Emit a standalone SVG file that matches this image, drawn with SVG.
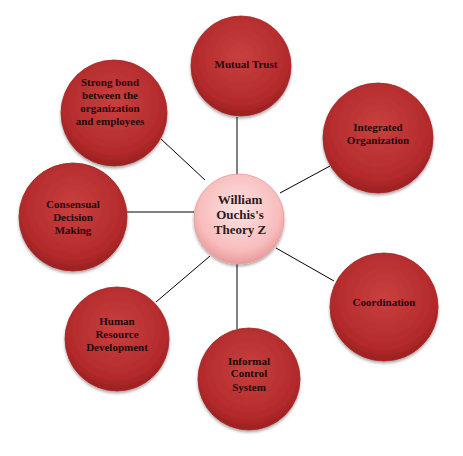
<svg xmlns="http://www.w3.org/2000/svg" width="463" height="456" viewBox="0 0 463 456">
<defs>
<radialGradient id="red" cx="50%" cy="40%" r="60%">
<stop offset="0" stop-color="#c8403f"/>
<stop offset="0.8" stop-color="#b32a2b"/>
<stop offset="1" stop-color="#9a1f20"/>
</radialGradient>
<radialGradient id="pink" cx="50%" cy="40%" r="60%">
<stop offset="0" stop-color="#fde3e3"/>
<stop offset="0.75" stop-color="#f8bcbc"/>
<stop offset="1" stop-color="#e89a9a"/>
</radialGradient>
<filter id="sh" x="-20%" y="-20%" width="140%" height="140%">
<feGaussianBlur in="SourceAlpha" stdDeviation="1.5"/>
<feOffset dx="0" dy="2" result="b"/>
<feComponentTransfer><feFuncA type="linear" slope="0.35"/></feComponentTransfer>
<feMerge><feMergeNode/><feMergeNode in="SourceGraphic"/></feMerge>
</filter>
</defs>
<style>
.outer{fill:url(#red);stroke:#a52a2a;stroke-width:0.8;filter:url(#sh)}
.center{fill:url(#pink);stroke:#e6a0a0;stroke-width:0.8;filter:url(#sh)}
.lbl{font-family:"Liberation Serif","DejaVu Serif",serif;font-weight:bold;font-size:11px;fill:#1e0a0a;text-anchor:middle}
.clbl{font-family:"Liberation Serif","DejaVu Serif",serif;font-weight:bold;font-size:13px;fill:#2e1a1a;text-anchor:middle}
.conn line{stroke:#000;stroke-width:1}
</style>
<rect width="463" height="456" fill="#fff"/>
<g class="conn">
<line x1="237" y1="117" x2="237" y2="175"/>
<line x1="161" y1="139" x2="205" y2="180"/>
<line x1="330" y1="166" x2="280" y2="193"/>
<line x1="334" y1="281" x2="276" y2="248"/>
<line x1="237" y1="263" x2="237" y2="329"/>
<line x1="156" y1="302" x2="210" y2="256"/>
<line x1="127" y1="212" x2="194" y2="212"/>
</g>
<g id="mutual-trust">
<circle class="outer" cx="241" cy="66" r="50"/>
<text class="lbl" x="246" y="68">Mutual Trust</text>
</g>
<g id="strong-bond">
<circle class="outer" cx="114" cy="113" r="53"/>
<text class="lbl" x="110" y="86">Strong bond</text>
<text class="lbl" x="110" y="99">between the</text>
<text class="lbl" x="110" y="112">organization</text>
<text class="lbl" x="110" y="125">and employees</text>
</g>
<g id="integrated">
<circle class="outer" cx="378" cy="138" r="55"/>
<text class="lbl" x="378" y="131">Integrated</text>
<text class="lbl" x="378" y="144">Organization</text>
</g>
<g id="coordination">
<circle class="outer" cx="384" cy="307" r="54"/>
<text class="lbl" x="384" y="306">Coordination</text>
</g>
<g id="informal">
<circle class="outer" cx="249" cy="379" r="51"/>
<text class="lbl" x="249" y="365">Informal</text>
<text class="lbl" x="249" y="377">Control</text>
<text class="lbl" x="249" y="391">System</text>
</g>
<g id="hrd">
<circle class="outer" cx="117" cy="339" r="52"/>
<text class="lbl" x="117" y="325">Human</text>
<text class="lbl" x="117" y="338">Resource</text>
<text class="lbl" x="117" y="351">Development</text>
</g>
<g id="consensual">
<circle class="outer" cx="73" cy="217" r="54"/>
<text class="lbl" x="73" y="208">Consensual</text>
<text class="lbl" x="73" y="221">Decision</text>
<text class="lbl" x="73" y="234">Making</text>
</g>
<g id="theory-z">
<circle class="center" cx="239" cy="219" r="45"/>
<text class="clbl" x="240" y="204">William</text>
<text class="clbl" x="240" y="219">Ouchis's</text>
<text class="clbl" x="240" y="234">Theory Z</text>
</g>
</svg>
